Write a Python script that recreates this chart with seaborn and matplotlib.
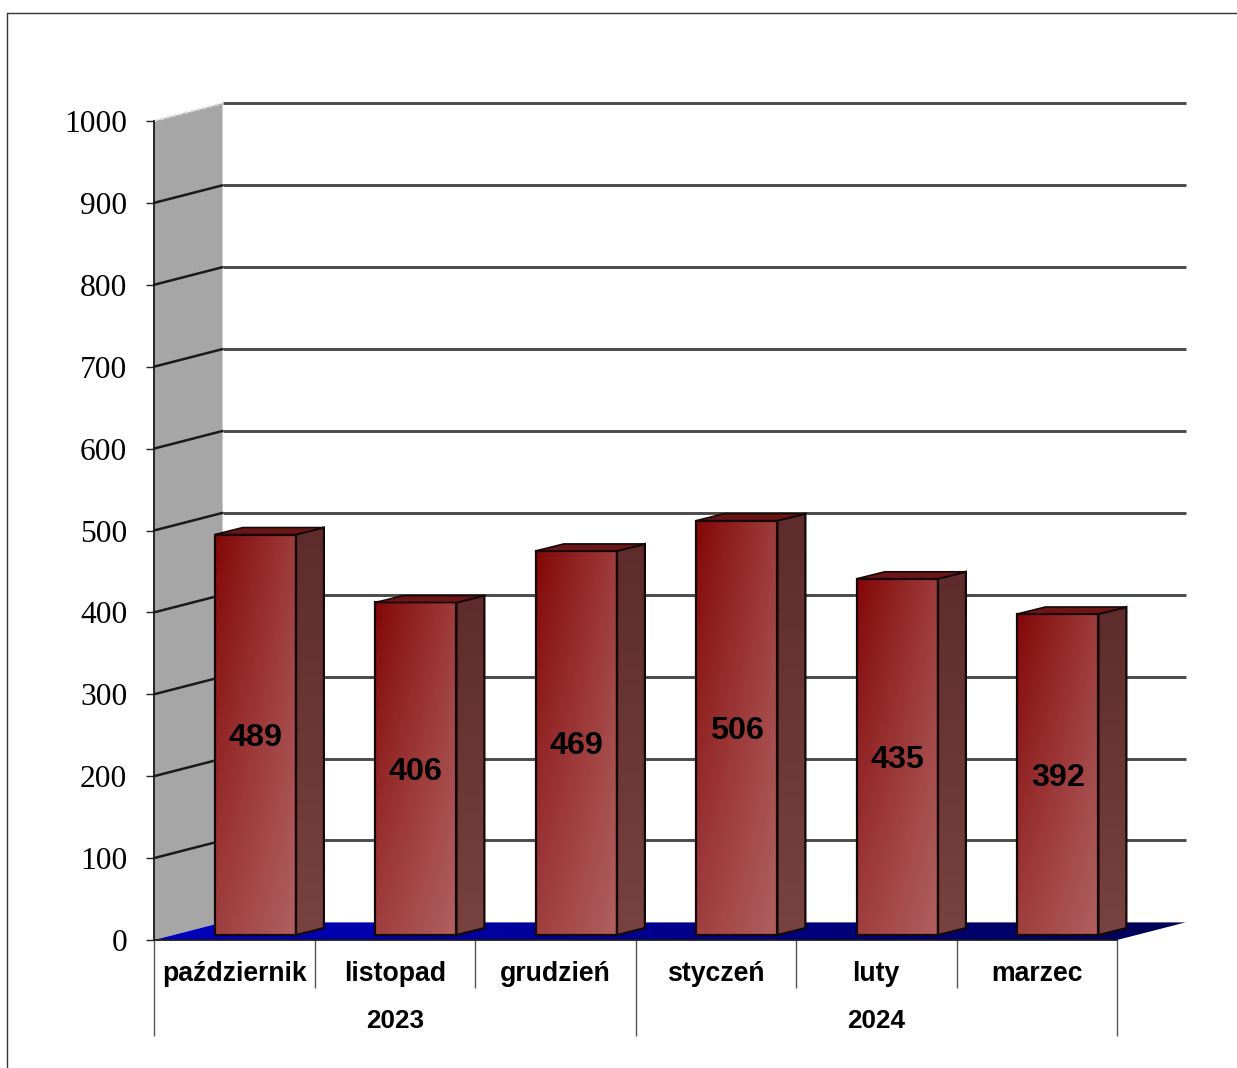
import numpy as np
import matplotlib
matplotlib.use('Agg')
import matplotlib.pyplot as plt
from matplotlib.colors import LinearSegmentedColormap
from matplotlib.lines import Line2D
from matplotlib.patches import Polygon
from matplotlib.transforms import Affine2D
import seaborn as sns

months = ['październik', 'listopad', 'grudzień', 'styczeń', 'luty', 'marzec']
values = [489, 406, 469, 506, 435, 392]
years = ['2023', '2024']
year_pos = [1, 4]
y_ticks = [0, 100, 200, 300, 400, 500, 600, 700, 800, 900, 1000]

sns.set_style('white')
plt.rcParams['font.family'] = ['Liberation Sans', 'DejaVu Sans']
plt.rcParams['text.color'] = 'black'
plt.rcParams['xtick.labelcolor'] = 'black'
plt.rcParams['ytick.labelcolor'] = 'black'

W, H = 1237, 1068
fig = plt.figure(figsize=(W / 100, H / 100), dpi=100)
ax = fig.add_axes([154 / W, 1 - 940 / H, 963 / W, 819 / H])
ax.patch.set_alpha(0)

# depth of the fake 3d box, in data units
wall_dx, wall_dy = 0.427, 21.5
bar_dx, bar_dy = 0.174, 8.5
bar_tf = Affine2D().translate(0.132, 6.1) + ax.transData

sns.barplot(x=months, y=values, ax=ax, width=0.505, facecolor='none',
            edgecolor='#160808', linewidth=1.6, zorder=5)


def gradient(corners, colors, poly, tf):
    # colour runs across the picture, corners = top left, top right, bottom left, bottom right
    cmap = LinearSegmentedColormap.from_list('g', colors)
    xs = [p[0] for p in poly]
    ys = [p[1] for p in poly]
    img = np.outer(np.linspace(corners[0], corners[2], 64), 1 - np.linspace(0, 1, 64)) + \
        np.outer(np.linspace(corners[1], corners[3], 64), np.linspace(0, 1, 64))
    im = ax.imshow(img, extent=(min(xs), max(xs), min(ys), max(ys)), aspect='auto', cmap=cmap,
                   vmin=0, vmax=1, zorder=4, transform=tf)
    shape = Polygon(poly, closed=True, transform=tf, facecolor='none', edgecolor='none', clip_on=False)
    ax.add_patch(shape)
    im.set_clip_path(shape)
    im.set_clip_box(fig.bbox)


# back wall
wall = [(-0.5, 0), (-0.5, 1000), (-0.5 + wall_dx, 1000 + wall_dy), (-0.5 + wall_dx, wall_dy)]
ax.add_patch(Polygon(wall, closed=True, facecolor='#a6a6a6', edgecolor='none', zorder=1, clip_on=False))
for t in y_ticks[1:-1]:
    ax.plot([-0.5, -0.5 + wall_dx], [t, t + wall_dy], color='#1a1a1a', lw=1.8, zorder=2, clip_on=False)
ax.plot([-0.5, -0.5 + wall_dx], [1000, 1000 + wall_dy], color='#d8d8d8', lw=1.5, ls=(0, (2, 1)),
        zorder=2, clip_on=False)
ax.hlines([t + wall_dy for t in y_ticks[1:]], -0.5 + wall_dx, 5.5 + wall_dx, color='#4a4a4a', lw=2.1,
          zorder=2, clip_on=False)

# floor
floor = [(-0.5, 0), (-0.5 + wall_dx, wall_dy), (5.5 + wall_dx, wall_dy), (5.5, 0)]
gradient([0, 1, 0, 1], ['#0000c0', '#000058'], floor, ax.transData)

# bars
for i, bar in enumerate(ax.patches[:len(values)]):
    bar.set_transform(bar_tf)
    bar.set_clip_on(False)
    x0, x1 = bar.get_x(), bar.get_x() + bar.get_width()
    top = bar.get_height()
    gradient([0, 0.6, 0.62, 1], ['#840808', '#b06060'], [(x0, 0), (x0, top), (x1, top), (x1, 0)], bar_tf)
    side = [(x1, 0), (x1, top), (x1 + bar_dx, top + bar_dy), (x1 + bar_dx, bar_dy)]
    gradient([0, 0, 1, 1], ['#5e2c2c', '#77423f'], side, bar_tf)
    ax.add_patch(Polygon(side, closed=True, transform=bar_tf, facecolor='none', edgecolor='#160808',
                         lw=1.6, zorder=5, clip_on=False))
    lid = [(x0, top), (x0 + bar_dx, top + bar_dy), (x1 + bar_dx, top + bar_dy), (x1, top)]
    ax.add_patch(Polygon(lid, closed=True, transform=bar_tf, facecolor='#6b1616', edgecolor='#160808',
                         lw=1.2, zorder=5, clip_on=False))
    ax.text(i, values[i] / 2, str(values[i]), transform=bar_tf, ha='center', va='center_baseline',
            fontsize=23.3, fontweight='bold', color='black', zorder=6)

ax.set_xlim(-0.5, 5.5)
ax.set_ylim(0, 1000)
ax.set_yticks(y_ticks)
ax.tick_params(axis='y', length=5.8, width=1, color='#222222', pad=13.5, left=True)
for lab in ax.get_yticklabels():
    lab.set_fontfamily('Liberation Serif')
    lab.set_fontsize(22.7)
    lab.set_color('black')
ax.tick_params(axis='x', length=0, pad=15)
for lab in ax.get_xticklabels():
    lab.set_fontsize(19.2)
    lab.set_fontweight('bold')
    lab.set_color('black')
ax.set_xlabel('')
ax.set_ylabel('')

sns.despine(ax=ax, top=True, right=True)
for name in ['left', 'bottom']:
    ax.spines[name].set_color('#1a1a1a')
    ax.spines[name].set_linewidth(1.3)
    ax.spines[name].set_zorder(7)

# two level category separators
ax.vlines([0.5, 1.5, 3.5, 4.5], -59, 0, color='#555555', lw=1, clip_on=False)
ax.vlines([-0.5, 2.5, 5.5], -117, 0, color='#555555', lw=1, clip_on=False)
for x, year in zip(year_pos, years):
    ax.text(x, -99.5, year, ha='center', va='center', fontsize=18.8, fontweight='bold', color='black')

# outer frame
fig.add_artist(Line2D([7 / W, 7 / W], [0, 1 - 12.5 / H], color='#333333', lw=1))
fig.add_artist(Line2D([7 / W, 1], [1 - 12.5 / H, 1 - 12.5 / H], color='#333333', lw=1))

fig.savefig('out.png', dpi=100)
